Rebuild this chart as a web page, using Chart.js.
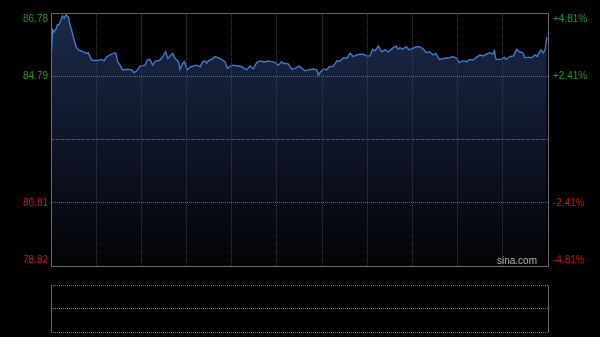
<!DOCTYPE html>
<html lang="zh-CN">
<head>
<meta charset="UTF-8">
<title>分时图</title>
<style>
  html, body { margin: 0; padding: 0; background: #000; }
  #wrap { position: relative; width: 600px; height: 337px; }
  #priceBox { position: absolute; left: 0; top: 0; width: 600px; height: 275px; }
  #volBox { position: absolute; left: 0; top: 275px; width: 600px; height: 62px; }
</style>
</head>
<body>
<div id="wrap">
  <div id="priceBox"><canvas id="priceChart"></canvas></div>
  <div id="volBox"><canvas id="volChart"></canvas></div>
</div>

<script src="https://cdn.jsdelivr.net/npm/chart.js"></script>
<script>
// minutes since open (0..240) and price
const minutes = [0,0.8,1.4,2.4,3.0,4.0,4.8,5.5,6.3,7.2,8.4,9.2,9.7,10.8,12.1,13.2,15.6,17.2,18.0,18.8,
  19.7,22.1,24.5,25.6,26.6,28.5,30.9,31.4,32.2,33.3,34.6,36.6,39.0,40.1,41.4,43.0,45.4,46.5,47.8,49.1,
  50.2,52.6,54.2,55.4,56.4,57.5,58.8,59.9,61.5,62.3,63.6,64.4,65.8,67.5,70.4,72.0,
  73.3,74.4,75.2,76.0,77.6,79.2,80.8,82.4,84.0,85.1,86.4,87.3,89.7,92.1,94.5,96.1,97.7,99.3,100.9,103.3,
  104.9,106.6,108.2,109.8,111.4,112.2,114.6,116.2,117.8,119.8,121.1,122.7,124.3,126.7,128.3,129.1,130.2,131.5,133.1,134.4,
  136.3,138.0,139.6,141.2,142.8,144.4,146.0,147.6,149.2,150.8,152.5,154.0,155.4,156.5,158.1,159.7,161.3,162.9,165.3,166.6,
  167.7,168.5,
  169.8,171.4,173.0,174.7,176.3,177.9,179.8,181.1,182.7,184.6,185.9,187.5,189.4,191.9,194.3,195.9,197.2,199.1,200.7,202.3,
  203.9,205.6,207.2,208.8,210.4,212.0,213.3,214.1,214.9,217.6,218.8,219.7,221.7,223.3,224.9,226.2,227.8,228.9,230.5,232.1,
  233.7,234.8,236.5,237.7,238.6,239.4];
const prices = [85.32,86.25,86.19,86.27,86.40,86.43,86.56,86.69,86.61,86.72,86.66,86.40,86.30,86.03,85.72,85.62,85.56,85.51,85.53,85.41,
  85.30,85.28,85.32,85.27,85.39,85.46,85.53,85.51,85.25,85.14,84.99,85.01,84.99,84.90,84.96,85.11,85.14,85.30,85.32,85.14,
  85.25,85.30,85.43,85.56,85.35,85.43,85.51,85.35,85.25,85.01,85.20,85.25,84.99,85.09,85.14,85.09,
  85.25,85.27,85.20,85.28,85.32,85.41,85.37,85.32,85.25,85.04,85.09,85.14,85.12,85.09,84.99,85.11,85.02,85.22,85.27,85.24,
  85.27,85.25,85.22,85.14,85.25,85.20,85.18,85.01,85.04,85.11,85.04,84.96,84.99,85.02,84.99,84.83,84.93,85.02,84.99,85.09,
  85.11,85.27,85.27,85.37,85.35,85.51,85.41,85.46,85.48,85.48,85.43,85.43,85.64,85.59,85.74,85.56,85.62,85.56,85.69,85.74,
  85.64,85.69,
  85.64,85.72,85.62,85.67,85.72,85.72,85.65,85.53,85.56,85.46,85.51,85.32,85.35,85.37,85.41,85.35,85.22,85.28,85.25,85.32,
  85.30,85.39,85.46,85.43,85.49,85.53,85.48,85.59,85.32,85.32,85.39,85.32,85.41,85.43,85.64,85.56,85.53,85.37,85.39,85.37,
  85.46,85.41,85.62,85.53,85.62,86.02];

const prevClose = 82.80;
const priceTicks = [86.78, 84.79, 82.80, 80.81, 78.82];
const priceLabels = ['86.78', '84.79', '', '80.81', '78.82'];
const pctLabels = ['+4.81%', '+2.41%', '', '-2.41%', '-4.81%'];
const volTicks = [0, 1, 2];

const GREEN = '#1e9a1e';
const RED = '#c4140e';
const FRAME = '#6a6a6a';
const labelFont = '10px "Liberation Sans", Arial, sans-serif';

function crisp(v) { return Math.round(v) + 0.5; }

// side labels, clamped so the top/bottom ones sit inside the frame
const sideLabels = {
    id: 'sideLabels',
    afterDraw(chart) {
        const c = chart.ctx, a = chart.chartArea, ys = chart.scales.y;
        c.save();
        c.font = labelFont;
        c.textBaseline = 'middle';
        for (let i = 0; i < priceTicks.length; i++) {
            let py = ys.getPixelForValue(priceTicks[i]);
            py = Math.min(Math.max(py, a.top + 6), a.bottom - 6);
            c.fillStyle = priceTicks[i] > prevClose ? GREEN : RED;
            c.textAlign = 'right';
            c.fillText(priceLabels[i], a.left - 3, py);
            c.textAlign = 'left';
            c.fillText(pctLabels[i], a.right + 5, py);
        }
        c.fillStyle = '#b4b4b4';
        c.textAlign = 'right';
        c.fillText('sina.com', a.right - 11, a.bottom - 5);
        c.restore();
    }
};

const frame = {
    id: 'frame',
    afterDraw(chart, args, opts) {
        const c = chart.ctx, a = chart.chartArea;
        c.save();
        c.strokeStyle = FRAME;
        c.lineWidth = 1;
        c.beginPath();
        if (opts.full) {
            c.moveTo(crisp(a.left), crisp(a.top));
            c.lineTo(crisp(a.right), crisp(a.top));
            c.moveTo(crisp(a.left), crisp(a.bottom));
            c.lineTo(crisp(a.right), crisp(a.bottom));
        }
        c.moveTo(crisp(a.left), crisp(a.top));
        c.lineTo(crisp(a.left), crisp(a.bottom));
        c.moveTo(crisp(a.right), crisp(a.top));
        c.lineTo(crisp(a.right), crisp(a.bottom));
        c.stroke();
        c.restore();
    }
};

new Chart(document.getElementById('priceChart'), {
    type: 'line',
    data: {
        datasets: [{
            data: minutes.map((m, i) => ({ x: m, y: prices[i] })),
            borderColor: '#4378cc',
            borderWidth: 1.4,
            pointRadius: 0,
            tension: 0,
            fill: 'start',
            backgroundColor: (ctx) => {
                const a = ctx.chart.chartArea;
                if (!a) return 'rgba(20,32,58,0.8)';
                const g = ctx.chart.ctx.createLinearGradient(0, a.top, 0, a.bottom);
                g.addColorStop(0, '#1b2a4a');
                g.addColorStop(0.5, '#0f1628');
                g.addColorStop(1, '#030305');
                return g;
            }
        }]
    },
    options: {
        responsive: true,
        maintainAspectRatio: false,
        animation: false,
        devicePixelRatio: 1,
        layout: { padding: { left: 51, right: 52, top: 13, bottom: 9 } },
        plugins: {
            legend: { display: false },
            tooltip: { enabled: false },
            frame: { full: true }
        },
        scales: {
            x: {
                type: 'linear',
                min: 0,
                max: 240,
                afterBuildTicks: (s) => {
                    s.ticks = [];
                    for (let i = 0; i <= 11; i++) s.ticks.push({ value: i * 240 / 11 });
                },
                afterFit: (s) => { s.height = 0; },
                ticks: { display: false },
                grid: {
                    z: 1,
                    drawTicks: false,
                    color: (ctx) => (ctx.index === 0 || ctx.index === 11) ? 'rgba(0,0,0,0)' : 'rgba(62,66,74,0.9)'
                },
                border: { display: false, dash: [1, 1] }
            },
            y: {
                min: 78.82,
                max: 86.78,
                afterBuildTicks: (s) => { s.ticks = priceTicks.map(v => ({ value: v })); },
                afterFit: (s) => { s.width = 0; },
                ticks: { display: false },
                grid: {
                    z: 1,
                    drawTicks: false,
                    color: (ctx) => {
                        const v = ctx.tick ? ctx.tick.value : null;
                        if (v === 86.78 || v === 78.82) return 'rgba(0,0,0,0)';
                        if (v === prevClose) return '#4a5564';
                        return '#666666';
                    }
                },
                border: {
                    display: false,
                    dash: (ctx) => (ctx.tick && ctx.tick.value === prevClose) ? [4, 1] : [1, 1]
                }
            }
        }
    },
    plugins: [sideLabels, frame]
});

new Chart(document.getElementById('volChart'), {
    type: 'bar',
    data: { datasets: [] },
    options: {
        responsive: true,
        maintainAspectRatio: false,
        animation: false,
        devicePixelRatio: 1,
        layout: { padding: { left: 51, right: 52, top: 10, bottom: 5 } },
        plugins: {
            legend: { display: false },
            tooltip: { enabled: false },
            frame: { full: false }
        },
        scales: {
            x: {
                type: 'linear',
                min: 0,
                max: 240,
                afterFit: (s) => { s.height = 0; },
                ticks: { display: false },
                grid: { display: false },
                border: { display: false }
            },
            y: {
                min: 0,
                max: 2,
                afterBuildTicks: (s) => { s.ticks = volTicks.map(v => ({ value: v })); },
                afterFit: (s) => { s.width = 0; },
                ticks: { display: false },
                grid: { drawTicks: false, color: '#777777' },
                border: { display: false, dash: [1, 1] }
            }
        }
    },
    plugins: [frame]
});
</script>
</body>
</html>
